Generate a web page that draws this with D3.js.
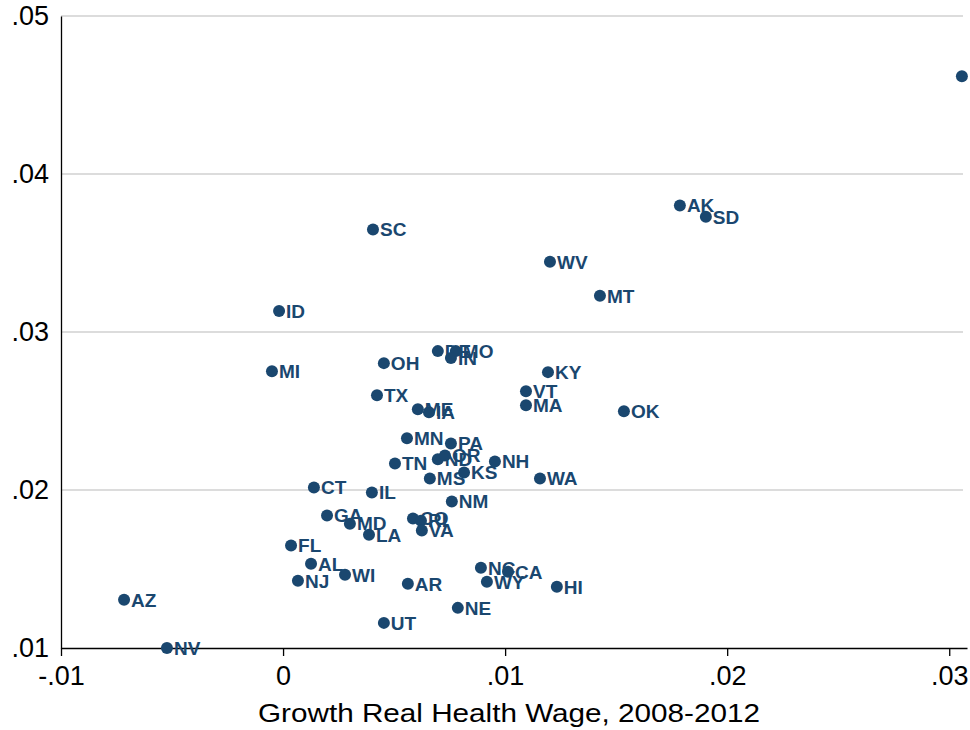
<!DOCTYPE html>
<html>
<head>
<meta charset="utf-8">
<script src="https://cdn.jsdelivr.net/npm/d3@7"></script>
<style>
  body { margin: 0; background: #fff; }
  svg { display: block; font-family: "Liberation Sans", Arial, sans-serif; }
</style>
</head>
<body>
<div id="chart"></div>
<script>
// State labels and values
const states = [
  "AK", "SD", "SC", "WV", "MT", "ID", "MI", "OH", "DE", "MO",
  "IN", "KY", "VT", "MA", "OK", "TX", "ME", "IA", "MN", "PA",
  "ND", "OR", "NH", "TN", "KS", "MS", "WA", "CT", "IL", "NM",
  "GA", "MD", "LA", "CO", "RI", "VA", "FL", "AL", "NJ", "WI",
  "AR", "NC", "CA", "WY", "HI", "NE", "UT", "AZ", "NV", ""
];
// growth of real health wage, 2008-2012 (x)
const wageGrowth = [
  0.01787, 0.01904, 0.00405, 0.01202, 0.01427, -0.00018, -0.00050, 0.00454, 0.00697, 0.00778,
  0.00756, 0.01193, 0.01094, 0.01094, 0.01535, 0.00423, 0.00607, 0.00657, 0.00558, 0.00756,
  0.00697, 0.00729, 0.00954, 0.00504, 0.00815, 0.00661, 0.01157, 0.00139, 0.00400, 0.00760,
  0.00198, 0.00301, 0.00387, 0.00585, 0.00621, 0.00625, 0.00036, 0.00126, 0.00067, 0.00279,
  0.00562, 0.00891, 0.01013, 0.00918, 0.01233, 0.00787, 0.00454, -0.00716, -0.00523, 0.03057
];
// y values
const yValues = [
  0.03800, 0.03730, 0.03648, 0.03444, 0.03229, 0.03133, 0.02752, 0.02803, 0.02879, 0.02879,
  0.02835, 0.02746, 0.02625, 0.02537, 0.02498, 0.02600, 0.02511, 0.02492, 0.02327, 0.02295,
  0.02194, 0.02219, 0.02181, 0.02168, 0.02111, 0.02073, 0.02073, 0.02016, 0.01984, 0.01927,
  0.01838, 0.01787, 0.01717, 0.01819, 0.01806, 0.01743, 0.01648, 0.01533, 0.01425, 0.01463,
  0.01406, 0.01508, 0.01483, 0.01419, 0.01387, 0.01254, 0.01159, 0.01305, 0.01000, 0.04619
];
const xTicks = [-0.01, 0, 0.01, 0.02, 0.03];
const yTicks = [0.01, 0.02, 0.03, 0.04, 0.05];
const xTitle = "Growth Real Health Wage, 2008-2012";

const width = 970;
const height = 730;
const navy = "#1a476f";

// Stata-style tick labels: drop the leading zero, plain hyphen minus (".05", "-.01")
const fmt = (d) =>
  d === 0 ? "0" : (d < 0 ? "-" : "") + d3.format(".2f")(Math.abs(d)).replace(/^0/, "");

const points = states.map((s, i) => ({ label: s, x: wageGrowth[i], y: yValues[i] }));

const xScale = d3.scaleLinear().domain([-0.01, 0.0308]).range([61, 967]);
const yScale = d3.scaleLinear().domain([0.01, 0.05]).range([648, 16]);

const svg = d3.select("#chart").append("svg")
  .attr("width", width)
  .attr("height", height);

// Horizontal grid lines (skip the one on the axis)
svg.append("g")
  .selectAll("line")
  .data(yTicks.filter((d) => d > 0.01))
  .enter()
  .append("line")
  .attr("x1", xScale(-0.01))
  .attr("x2", 963)
  .attr("y1", (d) => yScale(d))
  .attr("y2", (d) => yScale(d))
  .attr("stroke", "#dcdcdc")
  .attr("stroke-width", 2);

// x axis
const xAxisG = svg.append("g")
  .attr("transform", `translate(0, ${yScale(0.01)})`)
  .call(d3.axisBottom(xScale).tickValues(xTicks).tickFormat(fmt).tickSize(8).tickPadding(10).tickSizeOuter(0));
xAxisG.select(".domain").attr("stroke", "#000").attr("stroke-width", 1.3);
xAxisG.selectAll(".tick line").attr("stroke", "#000").attr("stroke-width", 1.3);
xAxisG.selectAll(".tick text").attr("font-size", 27).attr("fill", "#000")
  .attr("font-family", "'Liberation Sans', Arial, sans-serif");

// y axis
const yAxisG = svg.append("g")
  .attr("transform", `translate(${xScale(-0.01)}, 0)`)
  .call(d3.axisLeft(yScale).tickValues(yTicks).tickFormat(fmt).tickSize(0).tickPadding(12).tickSizeOuter(0));
yAxisG.select(".domain").attr("stroke", "#000").attr("stroke-width", 1.3);
yAxisG.selectAll(".tick text").attr("font-size", 27).attr("fill", "#000")
  .attr("font-family", "'Liberation Sans', Arial, sans-serif");

// x axis title
svg.append("text")
  .attr("x", 509)
  .attr("y", 722)
  .attr("text-anchor", "middle")
  .attr("font-size", 26)
  .attr("textLength", 502)
  .attr("lengthAdjust", "spacingAndGlyphs")
  .attr("fill", "#000")
  .text(xTitle);

// markers
svg.append("g")
  .selectAll("circle")
  .data(points)
  .enter()
  .append("circle")
  .attr("cx", (d) => xScale(d.x))
  .attr("cy", (d) => yScale(d.y))
  .attr("r", 6)
  .attr("fill", navy);

// marker labels (the far top-right point has no visible label)
svg.append("g")
  .selectAll("text")
  .data(points.filter((d) => d.label !== ""))
  .enter()
  .append("text")
  .attr("x", (d) => xScale(d.x) + 7)
  .attr("y", (d) => yScale(d.y))
  .attr("dy", "0.36em")
  .attr("font-size", 19)
  .attr("font-weight", "bold")
  .attr("fill", navy)
  .text((d) => d.label);
</script>
</body>
</html>
